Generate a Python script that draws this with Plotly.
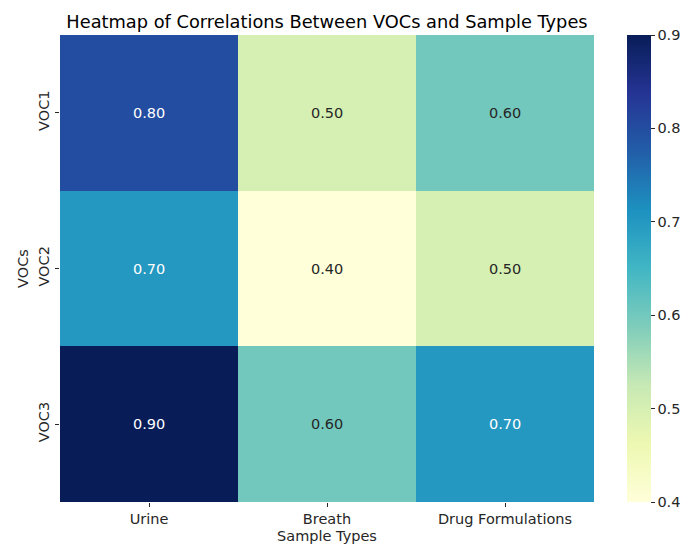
import plotly.graph_objects as go

sample_types = ["Urine", "Breath", "Drug Formulations"]
vocs = ["VOC1", "VOC2", "VOC3"]
corr = [
    [0.80, 0.50, 0.60],
    [0.70, 0.40, 0.50],
    [0.90, 0.60, 0.70],
]

ylgnbu = [
    "#ffffd9", "#edf8b1", "#c7e9b4", "#7fcdbb", "#41b6c4",
    "#1d91c0", "#225ea8", "#253494", "#081d58",
]
colorscale = [[i / (len(ylgnbu) - 1), c] for i, c in enumerate(ylgnbu)]

FONT = "DejaVu Sans, sans-serif"
TXT = "#262626"
FS = 14.5

fig = go.Figure(
    go.Heatmap(
        z=corr,
        x=sample_types,
        y=vocs,
        colorscale=colorscale,
        zmin=0.4,
        zmax=0.9,
        showscale=True,
        colorbar=dict(
            thickness=24,
            thicknessmode="pixels",
            len=1,
            lenmode="fraction",
            x=(627 - 60) / 534,
            xanchor="left",
            xpad=0,
            y=0.5,
            yanchor="middle",
            ypad=0,
            outlinewidth=0,
            ticks="outside",
            ticklen=4,
            tickcolor=TXT,
            tickvals=[0.4, 0.5, 0.6, 0.7, 0.8, 0.9],
            tickfont=dict(family=FONT, size=FS, color=TXT),
        ),
        hovertemplate="%{y} / %{x}: %{z:.2f}<extra></extra>",
    )
)

for i, row in enumerate(corr):
    for j, v in enumerate(row):
        fig.add_annotation(
            x=sample_types[j],
            y=vocs[i],
            text=f"{v:.2f}",
            showarrow=False,
            font=dict(family=FONT, size=FS, color="white" if v >= 0.7 else TXT),
        )

fig.update_layout(
    width=688,
    height=544,
    paper_bgcolor="white",
    plot_bgcolor="white",
    margin=dict(l=60, r=94, t=35, b=42, autoexpand=False),
    font=dict(family=FONT, color=TXT),
    title=dict(
        text="Heatmap of Correlations Between VOCs and Sample Types",
        x=0.5,
        xref="paper",
        xanchor="center",
        y=1 - 22 / 544,
        yref="container",
        yanchor="middle",
        font=dict(family=FONT, size=17.8, color="black"),
    ),
    xaxis=dict(
        title=dict(text="Sample Types", standoff=4, font=dict(size=FS, color=TXT)),
        ticks="outside",
        ticklen=4,
        tickcolor=TXT,
        tickfont=dict(size=FS, color=TXT),
        showgrid=False,
        zeroline=False,
        showline=False,
    ),
    yaxis=dict(
        title=dict(text="VOCs", standoff=4, font=dict(size=FS, color=TXT)),
        autorange="reversed",
        ticks="outside",
        ticklen=4,
        tickcolor=TXT,
        tickangle=-90,
        tickfont=dict(size=FS, color=TXT),
        showgrid=False,
        zeroline=False,
        showline=False,
    ),
)

# the page body has a default 8px margin; drop it so the figure fills the window
fig.write_html(
    "out.html",
    config={"displayModeBar": False},
    post_script="document.body.style.margin = '0';",
)
